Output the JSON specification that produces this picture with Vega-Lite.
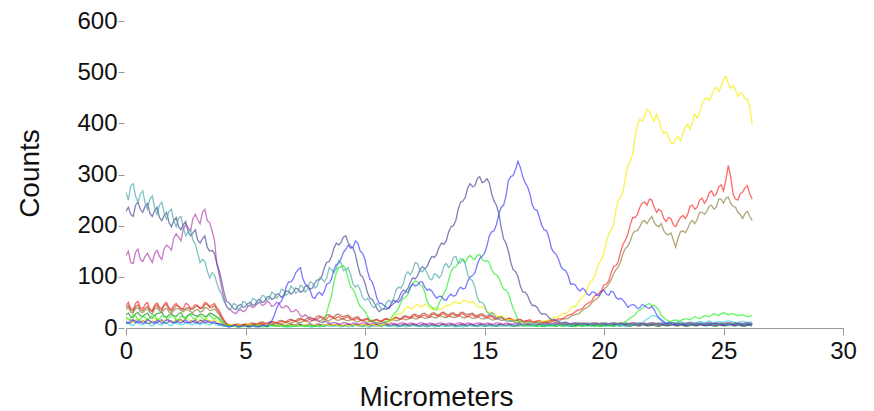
{
"$schema": "https://vega.github.io/schema/vega-lite/v6.json",
"width": 717, "height": 307,
"autosize": {"type": "none"},
"padding": {"left": 126, "top": 21, "right": 31, "bottom": 83},
"background": "white",
"config": {"view": {"stroke": null}, "font": "Liberation Sans"},
"data": {"values": [
{"x":0,"s1":265,"s2":228,"s3":12,"s4":142,"s5":22,"s6":15,"s7":44,"s8":36,"s9":40,"s10":8,"s11":12,"s12":26},
{"x":0.2,"s1":278,"s2":222,"s3":15,"s4":128,"s5":18,"s6":12,"s7":38,"s8":31,"s9":35,"s10":6,"s11":10,"s12":22},
{"x":0.4,"s1":258,"s2":240,"s3":10,"s4":148,"s5":24,"s6":17,"s7":48,"s8":38,"s9":42,"s10":10,"s11":14,"s12":28},
{"x":0.6,"s1":262,"s2":232,"s3":13,"s4":134,"s5":17,"s6":14,"s7":40,"s8":32,"s9":36,"s10":7,"s11":11,"s12":24},
{"x":0.8,"s1":244,"s2":238,"s3":11,"s4":140,"s5":21,"s6":16,"s7":46,"s8":35,"s9":39,"s10":9,"s11":13,"s12":27},
{"x":1.0,"s1":252,"s2":224,"s3":14,"s4":136,"s5":19,"s6":13,"s7":36,"s8":30,"s9":34,"s10":5,"s11":9,"s12":21},
{"x":1.2,"s1":236,"s2":230,"s3":9,"s4":146,"s5":25,"s6":18,"s7":45,"s8":37,"s9":41,"s10":8,"s11":12,"s12":25},
{"x":1.4,"s1":240,"s2":216,"s3":13,"s4":140,"s5":18,"s6":15,"s7":41,"s8":33,"s9":37,"s10":7,"s11":14,"s12":29},
{"x":1.6,"s1":224,"s2":220,"s3":12,"s4":156,"s5":22,"s6":14,"s7":47,"s8":36,"s9":44,"s10":10,"s11":10,"s12":23},
{"x":1.8,"s1":228,"s2":206,"s3":15,"s4":158,"s5":20,"s6":17,"s7":39,"s8":31,"s9":36,"s10":6,"s11":13,"s12":26},
{"x":2.0,"s1":210,"s2":210,"s3":10,"s4":176,"s5":23,"s6":13,"s7":44,"s8":34,"s9":38,"s10":9,"s11":11,"s12":24},
{"x":2.2,"s1":214,"s2":198,"s3":12,"s4":178,"s5":17,"s6":16,"s7":42,"s8":38,"s9":42,"s10":8,"s11":15,"s12":28},
{"x":2.4,"s1":196,"s2":202,"s3":14,"s4":194,"s5":21,"s6":15,"s7":38,"s8":32,"s9":35,"s10":7,"s11":12,"s12":22},
{"x":2.6,"s1":188,"s2":188,"s3":11,"s4":196,"s5":24,"s6":18,"s7":46,"s8":35,"s9":40,"s10":10,"s11":10,"s12":25},
{"x":2.8,"s1":172,"s2":186,"s3":13,"s4":214,"s5":19,"s6":14,"s7":40,"s8":30,"s9":37,"s10":6,"s11":13,"s12":27},
{"x":3.0,"s1":146,"s2":172,"s3":10,"s4":212,"s5":22,"s6":16,"s7":44,"s8":36,"s9":43,"s10":8,"s11":11,"s12":23},
{"x":3.2,"s1":134,"s2":174,"s3":12,"s4":226,"s5":18,"s6":13,"s7":42,"s8":33,"s9":39,"s10":9,"s11":14,"s12":26},
{"x":3.4,"s1":112,"s2":158,"s3":14,"s4":210,"s5":23,"s6":17,"s7":48,"s8":39,"s9":46,"s10":7,"s11":12,"s12":24},
{"x":3.6,"s1":108,"s2":152,"s3":11,"s4":190,"s5":20,"s6":15,"s7":45,"s8":35,"s9":40,"s10":8,"s11":10,"s12":28},
{"x":3.8,"s1":88,"s2":126,"s3":9,"s4":126,"s5":21,"s6":14,"s7":40,"s8":32,"s9":36,"s10":6,"s11":9,"s12":22},
{"x":4.0,"s1":66,"s2":92,"s3":7,"s4":78,"s5":12,"s6":8,"s7":24,"s8":18,"s9":20,"s10":4,"s11":6,"s12":12},
{"x":4.2,"s1":44,"s2":52,"s3":4,"s4":42,"s5":5,"s6":5,"s7":9,"s8":7,"s9":8,"s10":3,"s11":5,"s12":5},
{"x":4.4,"s1":38,"s2":44,"s3":3,"s4":34,"s5":3,"s6":7,"s7":5,"s8":4,"s9":6,"s10":4,"s11":4,"s12":3},
{"x":4.6,"s1":45,"s2":36,"s3":5,"s4":28,"s5":4,"s6":4,"s7":6,"s8":5,"s9":7,"s10":2,"s11":6,"s12":4},
{"x":4.8,"s1":40,"s2":46,"s3":3,"s4":36,"s5":2,"s6":6,"s7":5,"s8":4,"s9":6,"s10":5,"s11":5,"s12":6},
{"x":5.0,"s1":50,"s2":42,"s3":4,"s4":34,"s5":4,"s6":5,"s7":7,"s8":6,"s9":8,"s10":3,"s11":7,"s12":4},
{"x":5.2,"s1":46,"s2":50,"s3":2,"s4":44,"s5":3,"s6":7,"s7":6,"s8":5,"s9":9,"s10":4,"s11":5,"s12":5},
{"x":5.4,"s1":56,"s2":46,"s3":4,"s4":42,"s5":5,"s6":4,"s7":8,"s8":7,"s9":8,"s10":2,"s11":6,"s12":3},
{"x":5.6,"s1":52,"s2":56,"s3":3,"s4":50,"s5":2,"s6":6,"s7":9,"s8":6,"s9":11,"s10":4,"s11":8,"s12":5},
{"x":5.8,"s1":62,"s2":52,"s3":5,"s4":46,"s5":4,"s6":5,"s7":8,"s8":8,"s9":10,"s10":3,"s11":5,"s12":4},
{"x":6.0,"s1":57,"s2":62,"s3":8,"s4":50,"s5":3,"s6":7,"s7":10,"s8":7,"s9":12,"s10":5,"s11":7,"s12":6},
{"x":6.2,"s1":67,"s2":58,"s3":24,"s4":44,"s5":5,"s6":4,"s7":11,"s8":9,"s9":11,"s10":3,"s11":6,"s12":4},
{"x":6.4,"s1":63,"s2":66,"s3":48,"s4":48,"s5":3,"s6":6,"s7":10,"s8":8,"s9":14,"s10":4,"s11":8,"s12":5},
{"x":6.6,"s1":74,"s2":64,"s3":62,"s4":40,"s5":4,"s6":5,"s7":13,"s8":10,"s9":13,"s10":2,"s11":5,"s12":3},
{"x":6.8,"s1":68,"s2":72,"s3":90,"s4":40,"s5":2,"s6":7,"s7":12,"s8":9,"s9":16,"s10":4,"s11":7,"s12":5},
{"x":7.0,"s1":78,"s2":70,"s3":96,"s4":32,"s5":4,"s6":5,"s7":15,"s8":12,"s9":15,"s10":3,"s11":6,"s12":4},
{"x":7.2,"s1":71,"s2":76,"s3":114,"s4":32,"s5":3,"s6":6,"s7":14,"s8":11,"s9":18,"s10":5,"s11":8,"s12":6},
{"x":7.4,"s1":80,"s2":72,"s3":96,"s4":22,"s5":5,"s6":4,"s7":16,"s8":13,"s9":17,"s10":3,"s11":5,"s12":4},
{"x":7.6,"s1":76,"s2":82,"s3":82,"s4":22,"s5":3,"s6":7,"s7":15,"s8":12,"s9":20,"s10":4,"s11":7,"s12":5},
{"x":7.8,"s1":88,"s2":78,"s3":60,"s4":14,"s5":4,"s6":5,"s7":18,"s8":15,"s9":19,"s10":2,"s11":6,"s12":3},
{"x":8.0,"s1":82,"s2":94,"s3":66,"s4":16,"s5":3,"s6":6,"s7":17,"s8":14,"s9":23,"s10":4,"s11":8,"s12":5},
{"x":8.2,"s1":96,"s2":102,"s3":64,"s4":11,"s5":5,"s6":4,"s7":20,"s8":16,"s9":21,"s10":3,"s11":5,"s12":4},
{"x":8.4,"s1":98,"s2":128,"s3":86,"s4":12,"s5":30,"s6":7,"s7":18,"s8":15,"s9":25,"s10":5,"s11":7,"s12":6},
{"x":8.6,"s1":114,"s2":140,"s3":96,"s4":9,"s5":62,"s6":5,"s7":22,"s8":18,"s9":22,"s10":3,"s11":6,"s12":4},
{"x":8.8,"s1":116,"s2":166,"s3":124,"s4":10,"s5":108,"s6":6,"s7":20,"s8":16,"s9":26,"s10":4,"s11":8,"s12":5},
{"x":9.0,"s1":128,"s2":168,"s3":136,"s4":8,"s5":120,"s6":4,"s7":19,"s8":17,"s9":23,"s10":2,"s11":5,"s12":3},
{"x":9.2,"s1":114,"s2":180,"s3":154,"s4":10,"s5":114,"s6":7,"s7":21,"s8":15,"s9":24,"s10":4,"s11":7,"s12":5},
{"x":9.4,"s1":104,"s2":160,"s3":156,"s4":7,"s5":80,"s6":5,"s7":17,"s8":16,"s9":20,"s10":3,"s11":6,"s12":4},
{"x":9.6,"s1":80,"s2":144,"s3":170,"s4":9,"s5":66,"s6":6,"s7":18,"s8":13,"s9":21,"s10":5,"s11":8,"s12":6},
{"x":9.8,"s1":74,"s2":104,"s3":150,"s4":8,"s5":42,"s6":4,"s7":15,"s8":14,"s9":17,"s10":3,"s11":5,"s12":4},
{"x":10.0,"s1":54,"s2":88,"s3":134,"s4":10,"s5":32,"s6":7,"s7":16,"s8":12,"s9":18,"s10":4,"s11":7,"s12":5},
{"x":10.2,"s1":52,"s2":58,"s3":96,"s4":7,"s5":16,"s6":5,"s7":14,"s8":13,"s9":15,"s10":2,"s11":6,"s12":3},
{"x":10.4,"s1":40,"s2":48,"s3":76,"s4":9,"s5":12,"s6":6,"s7":15,"s8":11,"s9":16,"s10":4,"s11":8,"s12":5},
{"x":10.6,"s1":44,"s2":32,"s3":48,"s4":8,"s5":7,"s6":4,"s7":14,"s8":12,"s9":14,"s10":3,"s11":5,"s12":4},
{"x":10.8,"s1":38,"s2":38,"s3":44,"s4":10,"s5":11,"s6":7,"s7":17,"s8":14,"s9":17,"s10":5,"s11":7,"s12":6},
{"x":11.0,"s1":54,"s2":40,"s3":38,"s4":7,"s5":14,"s6":12,"s7":16,"s8":13,"s9":16,"s10":3,"s11":6,"s12":4},
{"x":11.2,"s1":58,"s2":54,"s3":48,"s4":9,"s5":27,"s6":20,"s7":19,"s8":16,"s9":20,"s10":4,"s11":8,"s12":5},
{"x":11.4,"s1":80,"s2":56,"s3":50,"s4":8,"s5":38,"s6":28,"s7":18,"s8":15,"s9":19,"s10":2,"s11":5,"s12":3},
{"x":11.6,"s1":86,"s2":74,"s3":66,"s4":10,"s5":58,"s6":32,"s7":21,"s8":18,"s9":23,"s10":4,"s11":7,"s12":5},
{"x":11.8,"s1":110,"s2":78,"s3":70,"s4":7,"s5":66,"s6":42,"s7":20,"s8":17,"s9":22,"s10":3,"s11":6,"s12":4},
{"x":12.0,"s1":114,"s2":98,"s3":86,"s4":9,"s5":88,"s6":38,"s7":23,"s8":20,"s9":26,"s10":5,"s11":8,"s12":6},
{"x":12.2,"s1":126,"s2":102,"s3":84,"s4":8,"s5":90,"s6":46,"s7":21,"s8":18,"s9":24,"s10":3,"s11":5,"s12":4},
{"x":12.4,"s1":110,"s2":120,"s3":90,"s4":10,"s5":82,"s6":42,"s7":24,"s8":21,"s9":28,"s10":4,"s11":7,"s12":5},
{"x":12.6,"s1":108,"s2":120,"s3":74,"s4":7,"s5":52,"s6":44,"s7":22,"s8":19,"s9":25,"s10":2,"s11":6,"s12":3},
{"x":12.8,"s1":94,"s2":140,"s3":72,"s4":9,"s5":40,"s6":36,"s7":26,"s8":22,"s9":29,"s10":4,"s11":8,"s12":5},
{"x":13.0,"s1":104,"s2":144,"s3":58,"s4":8,"s5":36,"s6":40,"s7":24,"s8":20,"s9":26,"s10":3,"s11":5,"s12":4},
{"x":13.2,"s1":104,"s2":166,"s3":62,"s4":10,"s5":58,"s6":36,"s7":27,"s8":23,"s9":30,"s10":5,"s11":7,"s12":6},
{"x":13.4,"s1":126,"s2":170,"s3":54,"s4":7,"s5":76,"s6":44,"s7":23,"s8":20,"s9":27,"s10":3,"s11":6,"s12":4},
{"x":13.6,"s1":124,"s2":198,"s3":66,"s4":9,"s5":110,"s6":46,"s7":26,"s8":22,"s9":29,"s10":4,"s11":8,"s12":5},
{"x":13.8,"s1":140,"s2":210,"s3":64,"s4":8,"s5":120,"s6":52,"s7":24,"s8":21,"s9":26,"s10":2,"s11":5,"s12":3},
{"x":14.0,"s1":128,"s2":246,"s3":80,"s4":10,"s5":136,"s6":48,"s7":27,"s8":23,"s9":30,"s10":4,"s11":7,"s12":5},
{"x":14.2,"s1":124,"s2":256,"s3":78,"s4":7,"s5":128,"s6":54,"s7":23,"s8":20,"s9":27,"s10":3,"s11":6,"s12":4},
{"x":14.4,"s1":96,"s2":282,"s3":100,"s4":9,"s5":142,"s6":50,"s7":25,"s8":21,"s9":28,"s10":5,"s11":8,"s12":6},
{"x":14.6,"s1":80,"s2":278,"s3":108,"s4":8,"s5":134,"s6":48,"s7":22,"s8":19,"s9":25,"s10":3,"s11":5,"s12":4},
{"x":14.8,"s1":50,"s2":296,"s3":136,"s4":10,"s5":144,"s6":40,"s7":24,"s8":20,"s9":27,"s10":4,"s11":7,"s12":5},
{"x":15.0,"s1":44,"s2":286,"s3":146,"s4":7,"s5":130,"s6":38,"s7":21,"s8":18,"s9":24,"s10":6,"s11":6,"s12":3},
{"x":15.2,"s1":26,"s2":284,"s3":180,"s4":9,"s5":128,"s6":30,"s7":22,"s8":19,"s9":25,"s10":4,"s11":8,"s12":5},
{"x":15.4,"s1":27,"s2":248,"s3":190,"s4":8,"s5":106,"s6":28,"s7":19,"s8":16,"s9":21,"s10":5,"s11":5,"s12":4},
{"x":15.6,"s1":18,"s2":224,"s3":222,"s4":10,"s5":98,"s6":22,"s7":20,"s8":17,"s9":22,"s10":3,"s11":7,"s12":6},
{"x":15.8,"s1":19,"s2":174,"s3":240,"s4":7,"s5":76,"s6":22,"s7":17,"s8":15,"s9":18,"s10":6,"s11":6,"s12":4},
{"x":16.0,"s1":13,"s2":150,"s3":288,"s4":9,"s5":68,"s6":16,"s7":19,"s8":16,"s9":19,"s10":4,"s11":8,"s12":5},
{"x":16.2,"s1":14,"s2":114,"s3":298,"s4":8,"s5":38,"s6":16,"s7":16,"s8":13,"s9":15,"s10":5,"s11":5,"s12":3},
{"x":16.4,"s1":10,"s2":100,"s3":326,"s4":10,"s5":16,"s6":12,"s7":17,"s8":14,"s9":16,"s10":3,"s11":7,"s12":5},
{"x":16.6,"s1":12,"s2":70,"s3":296,"s4":7,"s5":5,"s6":12,"s7":14,"s8":12,"s9":13,"s10":6,"s11":6,"s12":4},
{"x":16.8,"s1":8,"s2":64,"s3":276,"s4":9,"s5":4,"s6":9,"s7":15,"s8":13,"s9":14,"s10":4,"s11":8,"s12":6},
{"x":17.0,"s1":10,"s2":44,"s3":240,"s4":8,"s5":6,"s6":11,"s7":13,"s8":11,"s9":11,"s10":5,"s11":5,"s12":4},
{"x":17.2,"s1":7,"s2":40,"s3":230,"s4":10,"s5":3,"s6":10,"s7":14,"s8":12,"s9":12,"s10":3,"s11":7,"s12":5},
{"x":17.4,"s1":9,"s2":27,"s3":200,"s4":7,"s5":5,"s6":13,"s7":12,"s8":11,"s9":10,"s10":6,"s11":6,"s12":3},
{"x":17.6,"s1":6,"s2":26,"s3":190,"s4":9,"s5":4,"s6":14,"s7":13,"s8":12,"s9":11,"s10":4,"s11":8,"s12":5},
{"x":17.8,"s1":8,"s2":16,"s3":156,"s4":8,"s5":6,"s6":19,"s7":14,"s8":13,"s9":9,"s10":5,"s11":5,"s12":4},
{"x":18.0,"s1":6,"s2":15,"s3":144,"s4":10,"s5":3,"s6":20,"s7":16,"s8":14,"s9":10,"s10":3,"s11":7,"s12":6},
{"x":18.2,"s1":7,"s2":10,"s3":120,"s4":7,"s5":5,"s6":26,"s7":18,"s8":16,"s9":8,"s10":6,"s11":6,"s12":4},
{"x":18.4,"s1":9,"s2":12,"s3":112,"s4":9,"s5":4,"s6":28,"s7":22,"s8":18,"s9":9,"s10":4,"s11":8,"s12":5},
{"x":18.6,"s1":6,"s2":8,"s3":86,"s4":8,"s5":6,"s6":38,"s7":26,"s8":22,"s9":7,"s10":5,"s11":5,"s12":3},
{"x":18.8,"s1":8,"s2":6,"s3":84,"s4":10,"s5":3,"s6":42,"s7":32,"s8":26,"s9":10,"s10":3,"s11":7,"s12":5},
{"x":19.0,"s1":10,"s2":9,"s3":72,"s4":7,"s5":5,"s6":56,"s7":36,"s8":30,"s9":8,"s10":6,"s11":6,"s12":4},
{"x":19.2,"s1":7,"s2":7,"s3":74,"s4":9,"s5":4,"s6":66,"s7":44,"s8":38,"s9":9,"s10":4,"s11":8,"s12":6},
{"x":19.4,"s1":9,"s2":8,"s3":64,"s4":8,"s5":6,"s6":88,"s7":50,"s8":44,"s9":7,"s10":5,"s11":5,"s12":4},
{"x":19.6,"s1":6,"s2":6,"s3":70,"s4":10,"s5":3,"s6":100,"s7":62,"s8":54,"s9":10,"s10":3,"s11":7,"s12":5},
{"x":19.8,"s1":8,"s2":9,"s3":64,"s4":7,"s5":5,"s6":128,"s7":68,"s8":62,"s9":8,"s10":6,"s11":6,"s12":3},
{"x":20.0,"s1":10,"s2":7,"s3":74,"s4":9,"s5":4,"s6":146,"s7":84,"s8":76,"s9":9,"s10":4,"s11":8,"s12":5},
{"x":20.2,"s1":7,"s2":8,"s3":64,"s4":8,"s5":6,"s6":184,"s7":92,"s8":86,"s9":7,"s10":5,"s11":5,"s12":4},
{"x":20.4,"s1":9,"s2":6,"s3":70,"s4":10,"s5":3,"s6":204,"s7":120,"s8":106,"s9":10,"s10":3,"s11":7,"s12":6},
{"x":20.6,"s1":6,"s2":9,"s3":56,"s4":7,"s5":8,"s6":250,"s7":130,"s8":120,"s9":8,"s10":6,"s11":6,"s12":4},
{"x":20.8,"s1":8,"s2":7,"s3":54,"s4":9,"s5":10,"s6":268,"s7":164,"s8":146,"s9":9,"s10":4,"s11":8,"s12":5},
{"x":21.0,"s1":10,"s2":8,"s3":40,"s4":8,"s5":16,"s6":318,"s7":184,"s8":160,"s9":7,"s10":5,"s11":5,"s12":3},
{"x":21.2,"s1":7,"s2":6,"s3":46,"s4":10,"s5":22,"s6":340,"s7":216,"s8":184,"s9":10,"s10":6,"s11":7,"s12":5},
{"x":21.4,"s1":9,"s2":9,"s3":38,"s4":7,"s5":32,"s6":398,"s7":222,"s8":190,"s9":8,"s10":8,"s11":6,"s12":4},
{"x":21.6,"s1":6,"s2":7,"s3":46,"s4":9,"s5":38,"s6":404,"s7":244,"s8":208,"s9":9,"s10":10,"s11":8,"s12":6},
{"x":21.8,"s1":8,"s2":8,"s3":40,"s4":8,"s5":46,"s6":428,"s7":240,"s8":204,"s9":7,"s10":18,"s11":5,"s12":4},
{"x":22.0,"s1":10,"s2":6,"s3":42,"s4":10,"s5":44,"s6":412,"s7":250,"s8":218,"s9":10,"s10":24,"s11":7,"s12":5},
{"x":22.2,"s1":7,"s2":9,"s3":26,"s4":7,"s5":40,"s6":418,"s7":226,"s8":200,"s9":8,"s10":22,"s11":6,"s12":3},
{"x":22.4,"s1":9,"s2":7,"s3":16,"s4":9,"s5":24,"s6":388,"s7":228,"s8":204,"s9":9,"s10":14,"s11":8,"s12":5},
{"x":22.6,"s1":6,"s2":8,"s3":9,"s4":8,"s5":16,"s6":384,"s7":208,"s8":184,"s9":7,"s10":10,"s11":5,"s12":4},
{"x":22.8,"s1":8,"s2":6,"s3":8,"s4":10,"s5":12,"s6":362,"s7":214,"s8":186,"s9":10,"s10":12,"s11":7,"s12":6},
{"x":23.0,"s1":10,"s2":9,"s3":6,"s4":7,"s5":16,"s6":370,"s7":198,"s8":158,"s9":8,"s10":9,"s11":6,"s12":4},
{"x":23.2,"s1":7,"s2":7,"s3":8,"s4":9,"s5":14,"s6":366,"s7":216,"s8":188,"s9":9,"s10":13,"s11":8,"s12":5},
{"x":23.4,"s1":9,"s2":8,"s3":5,"s4":8,"s5":18,"s6":392,"s7":214,"s8":186,"s9":7,"s10":10,"s11":5,"s12":3},
{"x":23.6,"s1":6,"s2":6,"s3":7,"s4":10,"s5":16,"s6":388,"s7":238,"s8":206,"s9":10,"s10":12,"s11":7,"s12":5},
{"x":23.8,"s1":8,"s2":9,"s3":6,"s4":7,"s5":22,"s6":418,"s7":232,"s8":204,"s9":8,"s10":9,"s11":6,"s12":4},
{"x":24.0,"s1":10,"s2":7,"s3":8,"s4":9,"s5":18,"s6":420,"s7":250,"s8":226,"s9":9,"s10":13,"s11":8,"s12":6},
{"x":24.2,"s1":7,"s2":8,"s3":5,"s4":8,"s5":24,"s6":446,"s7":244,"s8":222,"s9":7,"s10":11,"s11":5,"s12":4},
{"x":24.4,"s1":9,"s2":6,"s3":7,"s4":10,"s5":22,"s6":444,"s7":264,"s8":238,"s9":10,"s10":14,"s11":7,"s12":5},
{"x":24.6,"s1":6,"s2":9,"s3":6,"s4":7,"s5":28,"s6":466,"s7":258,"s8":232,"s9":8,"s10":10,"s11":6,"s12":3},
{"x":24.8,"s1":8,"s2":7,"s3":8,"s4":9,"s5":24,"s6":462,"s7":276,"s8":252,"s9":9,"s10":13,"s11":8,"s12":5},
{"x":25.0,"s1":10,"s2":8,"s3":5,"s4":8,"s5":30,"s6":486,"s7":268,"s8":244,"s9":7,"s10":11,"s11":5,"s12":4},
{"x":25.2,"s1":7,"s2":6,"s3":7,"s4":10,"s5":26,"s6":478,"s7":318,"s8":256,"s9":10,"s10":14,"s11":7,"s12":6},
{"x":25.4,"s1":9,"s2":9,"s3":6,"s4":7,"s5":28,"s6":474,"s7":262,"s8":238,"s9":8,"s10":12,"s11":6,"s12":4},
{"x":25.6,"s1":6,"s2":7,"s3":8,"s4":9,"s5":24,"s6":452,"s7":250,"s8":226,"s9":9,"s10":10,"s11":8,"s12":5},
{"x":25.8,"s1":8,"s2":8,"s3":5,"s4":8,"s5":26,"s6":458,"s7":266,"s8":214,"s9":7,"s10":13,"s11":5,"s12":3},
{"x":26.0,"s1":10,"s2":6,"s3":7,"s4":10,"s5":22,"s6":446,"s7":278,"s8":228,"s9":10,"s10":11,"s11":7,"s12":5},
{"x":26.2,"s1":7,"s2":9,"s3":6,"s4":7,"s5":24,"s6":398,"s7":252,"s8":210,"s9":8,"s10":12,"s11":6,"s12":4},
{"x":0.1,"s1":250,"s2":236,"s3":9,"s4":150,"s5":16,"s6":19,"s7":50,"s8":40,"s9":44,"s10":11,"s11":9,"s12":29},
{"x":0.3,"s1":282,"s2":218,"s3":16,"s4":126,"s5":26,"s6":11,"s7":36,"s8":29,"s9":33,"s10":5,"s11":15,"s12":20},
{"x":0.5,"s1":246,"s2":246,"s3":14,"s4":154,"s5":15,"s6":18,"s7":52,"s8":40,"s9":45,"s10":11,"s11":10,"s12":30},
{"x":0.7,"s1":268,"s2":226,"s3":9,"s4":130,"s5":23,"s6":12,"s7":38,"s8":30,"s9":34,"s10":6,"s11":14,"s12":22},
{"x":0.9,"s1":232,"s2":244,"s3":16,"s4":146,"s5":16,"s6":18,"s7":50,"s8":38,"s9":42,"s10":10,"s11":9,"s12":29},
{"x":1.1,"s1":258,"s2":218,"s3":10,"s4":128,"s5":26,"s6":11,"s7":34,"s8":28,"s9":32,"s10":4,"s11":13,"s12":19},
{"x":1.3,"s1":222,"s2":236,"s3":15,"s4":152,"s5":16,"s6":19,"s7":49,"s8":40,"s9":45,"s10":10,"s11":10,"s12":28},
{"x":1.5,"s1":246,"s2":210,"s3":9,"s4":134,"s5":24,"s6":12,"s7":37,"s8":30,"s9":34,"s10":6,"s11":16,"s12":31},
{"x":1.7,"s1":212,"s2":226,"s3":16,"s4":162,"s5":19,"s6":17,"s7":50,"s8":39,"s9":46,"s10":11,"s11":9,"s12":21},
{"x":1.9,"s1":232,"s2":198,"s3":11,"s4":152,"s5":24,"s6":11,"s7":36,"s8":29,"s9":33,"s10":5,"s11":14,"s12":28},
{"x":2.1,"s1":198,"s2":216,"s3":14,"s4":184,"s5":15,"s6":18,"s7":48,"s8":38,"s9":44,"s10":10,"s11":10,"s12":22},
{"x":2.3,"s1":218,"s2":192,"s3":10,"s4":170,"s5":23,"s6":14,"s7":38,"s8":34,"s9":38,"s10":6,"s11":16,"s12":30},
{"x":2.5,"s1":180,"s2":208,"s3":16,"s4":202,"s5":18,"s6":19,"s7":48,"s8":36,"s9":38,"s10":9,"s11":11,"s12":20},
{"x":2.7,"s1":192,"s2":180,"s3":10,"s4":190,"s5":26,"s6":12,"s7":38,"s8":32,"s9":36,"s10":7,"s11":14,"s12":28},
{"x":2.9,"s1":164,"s2":192,"s3":15,"s4":222,"s5":17,"s6":17,"s7":46,"s8":35,"s9":42,"s10":9,"s11":10,"s12":24},
{"x":3.1,"s1":128,"s2":166,"s3":9,"s4":204,"s5":24,"s6":12,"s7":38,"s8":31,"s9":38,"s10":6,"s11":15,"s12":27},
{"x":3.3,"s1":130,"s2":180,"s3":15,"s4":232,"s5":16,"s6":18,"s7":50,"s8":40,"s9":46,"s10":10,"s11":10,"s12":22},
{"x":3.5,"s1":98,"s2":150,"s3":10,"s4":206,"s5":26,"s6":13,"s7":42,"s8":34,"s9":40,"s10":6,"s11":14,"s12":29},
{"x":3.7,"s1":104,"s2":146,"s3":13,"s4":172,"s5":18,"s6":17,"s7":48,"s8":37,"s9":44,"s10":9,"s11":9,"s12":24},
{"x":3.9,"s1":74,"s2":112,"s3":8,"s4":104,"s5":17,"s6":11,"s7":34,"s8":26,"s9":30,"s10":5,"s11":8,"s12":18},
{"x":4.1,"s1":52,"s2":70,"s3":5,"s4":58,"s5":8,"s6":6,"s7":16,"s8":12,"s9":14,"s10":3,"s11":5,"s12":8},
{"x":4.3,"s1":36,"s2":50,"s3":2,"s4":38,"s5":4,"s6":6,"s7":6,"s8":5,"s9":7,"s10":2,"s11":4,"s12":4},
{"x":4.5,"s1":48,"s2":38,"s3":5,"s4":30,"s5":5,"s6":5,"s7":7,"s8":4,"s9":5,"s10":5,"s11":5,"s12":5},
{"x":4.7,"s1":36,"s2":44,"s3":2,"s4":34,"s5":2,"s6":6,"s7":4,"s8":6,"s9":8,"s10":3,"s11":4,"s12":3},
{"x":4.9,"s1":52,"s2":40,"s3":5,"s4":32,"s5":4,"s6":4,"s7":7,"s8":3,"s9":5,"s10":4,"s11":6,"s12":5},
{"x":5.1,"s1":42,"s2":48,"s3":3,"s4":42,"s5":2,"s6":7,"s7":5,"s8":6,"s9":7,"s10":2,"s11":5,"s12":3},
{"x":5.3,"s1":58,"s2":44,"s3":4,"s4":40,"s5":5,"s6":5,"s7":8,"s8":4,"s9":10,"s10":5,"s11":7,"s12":5},
{"x":5.5,"s1":48,"s2":54,"s3":2,"s4":48,"s5":3,"s6":6,"s7":7,"s8":8,"s9":7,"s10":3,"s11":5,"s12":4},
{"x":5.7,"s1":64,"s2":50,"s3":5,"s4":44,"s5":4,"s6":4,"s7":10,"s8":5,"s9":12,"s10":2,"s11":7,"s12":5},
{"x":5.9,"s1":54,"s2":60,"s3":3,"s4":52,"s5":2,"s6":7,"s7":7,"s8":9,"s9":9,"s10":5,"s11":5,"s12":3},
{"x":6.1,"s1":70,"s2":56,"s3":14,"s4":42,"s5":5,"s6":5,"s7":12,"s8":6,"s9":13,"s10":3,"s11":8,"s12":6},
{"x":6.3,"s1":58,"s2":66,"s3":38,"s4":50,"s5":3,"s6":6,"s7":9,"s8":10,"s9":10,"s10":5,"s11":5,"s12":4},
{"x":6.5,"s1":76,"s2":60,"s3":52,"s4":40,"s5":5,"s6":4,"s7":13,"s8":7,"s9":15,"s10":3,"s11":7,"s12":5},
{"x":6.7,"s1":64,"s2":72,"s3":80,"s4":44,"s5":2,"s6":7,"s7":11,"s8":11,"s9":12,"s10":5,"s11":5,"s12":3},
{"x":6.9,"s1":82,"s2":66,"s3":90,"s4":32,"s5":4,"s6":5,"s7":15,"s8":9,"s9":17,"s10":2,"s11":8,"s12":5},
{"x":7.1,"s1":68,"s2":78,"s3":108,"s4":36,"s5":3,"s6":6,"s7":13,"s8":13,"s9":14,"s10":4,"s11":6,"s12":4},
{"x":7.3,"s1":84,"s2":70,"s3":118,"s4":24,"s5":5,"s6":4,"s7":17,"s8":10,"s9":19,"s10":3,"s11":7,"s12":6},
{"x":7.5,"s1":70,"s2":82,"s3":86,"s4":26,"s5":3,"s6":6,"s7":14,"s8":14,"s9":16,"s10":5,"s11":5,"s12":3},
{"x":7.7,"s1":90,"s2":76,"s3":74,"s4":16,"s5":5,"s6":5,"s7":18,"s8":11,"s9":21,"s10":2,"s11":8,"s12":5},
{"x":7.9,"s1":78,"s2":88,"s3":58,"s4":18,"s5":3,"s6":7,"s7":16,"s8":16,"s9":18,"s10":4,"s11":5,"s12":4},
{"x":8.1,"s1":98,"s2":94,"s3":70,"s4":12,"s5":4,"s6":4,"s7":21,"s8":13,"s9":24,"s10":2,"s11":7,"s12":5},
{"x":8.3,"s1":90,"s2":118,"s3":72,"s4":13,"s5":14,"s6":6,"s7":17,"s8":17,"s9":20,"s10":4,"s11":5,"s12":3},
{"x":8.5,"s1":118,"s2":130,"s3":88,"s4":10,"s5":48,"s6":5,"s7":23,"s8":14,"s9":26,"s10":3,"s11":8,"s12":6},
{"x":8.7,"s1":108,"s2":156,"s3":114,"s4":11,"s5":90,"s6":7,"s7":19,"s8":19,"s9":21,"s10":5,"s11":5,"s12":4},
{"x":8.9,"s1":132,"s2":162,"s3":126,"s4":8,"s5":118,"s6":4,"s7":22,"s8":15,"s9":27,"s10":3,"s11":7,"s12":5},
{"x":9.1,"s1":112,"s2":178,"s3":148,"s4":11,"s5":122,"s6":6,"s7":18,"s8":18,"s9":22,"s10":5,"s11":5,"s12":3},
{"x":9.3,"s1":118,"s2":166,"s3":162,"s4":8,"s5":96,"s6":4,"s7":22,"s8":14,"s9":25,"s10":2,"s11":8,"s12":6},
{"x":9.5,"s1":86,"s2":156,"s3":158,"s4":10,"s5":76,"s6":7,"s7":16,"s8":17,"s9":19,"s10":4,"s11":5,"s12":4},
{"x":9.7,"s1":84,"s2":122,"s3":166,"s4":7,"s5":52,"s6":5,"s7":19,"s8":12,"s9":22,"s10":3,"s11":7,"s12":5},
{"x":9.9,"s1":60,"s2":100,"s3":146,"s4":10,"s5":38,"s6":6,"s7":14,"s8":15,"s9":16,"s10":5,"s11":5,"s12":3},
{"x":10.1,"s1":58,"s2":70,"s3":112,"s4":8,"s5":24,"s6":4,"s7":17,"s8":11,"s9":19,"s10":2,"s11":8,"s12":5},
{"x":10.3,"s1":42,"s2":56,"s3":90,"s4":10,"s5":15,"s6":7,"s7":13,"s8":14,"s9":14,"s10":4,"s11":5,"s12":4},
{"x":10.5,"s1":48,"s2":38,"s3":58,"s4":7,"s5":8,"s6":4,"s7":16,"s8":10,"s9":17,"s10":3,"s11":7,"s12":5},
{"x":10.7,"s1":36,"s2":36,"s3":48,"s4":10,"s5":10,"s6":6,"s7":13,"s8":14,"s9":13,"s10":5,"s11":5,"s12":3},
{"x":10.9,"s1":50,"s2":36,"s3":40,"s4":8,"s5":12,"s6":9,"s7":18,"s8":12,"s9":18,"s10":3,"s11":8,"s12":5},
{"x":11.1,"s1":50,"s2":48,"s3":44,"s4":10,"s5":20,"s6":15,"s7":15,"s8":16,"s9":15,"s10":5,"s11":5,"s12":4},
{"x":11.3,"s1":74,"s2":52,"s3":52,"s4":7,"s5":32,"s6":26,"s7":20,"s8":14,"s9":21,"s10":3,"s11":7,"s12":5},
{"x":11.5,"s1":78,"s2":68,"s3":56,"s4":10,"s5":50,"s6":28,"s7":17,"s8":18,"s9":18,"s10":5,"s11":5,"s12":3},
{"x":11.7,"s1":104,"s2":72,"s3":70,"s4":8,"s5":60,"s6":40,"s7":22,"s8":16,"s9":24,"s10":2,"s11":8,"s12":6},
{"x":11.9,"s1":104,"s2":90,"s3":80,"s4":10,"s5":78,"s6":38,"s7":19,"s8":20,"s9":21,"s10":4,"s11":5,"s12":4},
{"x":12.1,"s1":128,"s2":96,"s3":82,"s4":7,"s5":92,"s6":44,"s7":24,"s8":18,"s9":27,"s10":3,"s11":7,"s12":5},
{"x":12.3,"s1":112,"s2":114,"s3":90,"s4":10,"s5":84,"s6":42,"s7":21,"s8":22,"s9":24,"s10":5,"s11":5,"s12":3},
{"x":12.5,"s1":116,"s2":116,"s3":80,"s4":8,"s5":70,"s6":46,"s7":25,"s8":19,"s9":29,"s10":3,"s11":8,"s12":5},
{"x":12.7,"s1":96,"s2":132,"s3":76,"s4":10,"s5":44,"s6":38,"s7":21,"s8":22,"s9":25,"s10":5,"s11":5,"s12":4},
{"x":12.9,"s1":106,"s2":138,"s3":64,"s4":7,"s5":36,"s6":40,"s7":27,"s8":20,"s9":30,"s10":2,"s11":7,"s12":5},
{"x":13.1,"s1":98,"s2":158,"s3":62,"s4":10,"s5":48,"s6":36,"s7":23,"s8":24,"s9":26,"s10":4,"s11":5,"s12":3},
{"x":13.3,"s1":120,"s2":164,"s3":56,"s4":8,"s5":68,"s6":42,"s7":28,"s8":21,"s9":31,"s10":3,"s11":8,"s12":6},
{"x":13.5,"s1":118,"s2":188,"s3":62,"s4":10,"s5":94,"s6":44,"s7":23,"s8":23,"s9":26,"s10":5,"s11":5,"s12":4},
{"x":13.7,"s1":138,"s2":200,"s3":62,"s4":7,"s5":118,"s6":50,"s7":27,"s8":21,"s9":30,"s10":3,"s11":7,"s12":5},
{"x":13.9,"s1":126,"s2":232,"s3":74,"s4":10,"s5":126,"s6":48,"s7":23,"s8":24,"s9":26,"s10":5,"s11":5,"s12":3},
{"x":14.1,"s1":134,"s2":248,"s3":76,"s4":8,"s5":134,"s6":54,"s7":28,"s8":20,"s9":31,"s10":2,"s11":8,"s12":5},
{"x":14.3,"s1":104,"s2":274,"s3":92,"s4":10,"s5":138,"s6":50,"s7":22,"s8":23,"s9":26,"s10":4,"s11":5,"s12":4},
{"x":14.5,"s1":92,"s2":276,"s3":102,"s4":7,"s5":136,"s6":52,"s7":26,"s8":19,"s9":29,"s10":3,"s11":7,"s12":5},
{"x":14.7,"s1":60,"s2":292,"s3":124,"s4":10,"s5":142,"s6":42,"s7":21,"s8":22,"s9":24,"s10":5,"s11":5,"s12":3},
{"x":14.9,"s1":50,"s2":284,"s3":140,"s4":8,"s5":134,"s6":42,"s7":25,"s8":18,"s9":28,"s10":3,"s11":8,"s12":6},
{"x":15.1,"s1":32,"s2":292,"s3":160,"s4":10,"s5":132,"s6":32,"s7":20,"s8":20,"s9":23,"s10":5,"s11":5,"s12":4},
{"x":15.3,"s1":30,"s2":262,"s3":188,"s4":7,"s5":114,"s6":31,"s7":23,"s8":16,"s9":25,"s10":3,"s11":7,"s12":5},
{"x":15.5,"s1":19,"s2":240,"s3":202,"s4":10,"s5":104,"s6":24,"s7":18,"s8":18,"s9":20,"s10":6,"s11":5,"s12":3},
{"x":15.7,"s1":21,"s2":196,"s3":236,"s4":8,"s5":86,"s6":24,"s7":21,"s8":15,"s9":22,"s10":4,"s11":8,"s12":5},
{"x":15.9,"s1":14,"s2":166,"s3":258,"s4":10,"s5":74,"s6":18,"s7":16,"s8":17,"s9":17,"s10":5,"s11":5,"s12":4},
{"x":16.1,"s1":15,"s2":128,"s3":296,"s4":7,"s5":52,"s6":17,"s7":19,"s8":13,"s9":18,"s10":3,"s11":7,"s12":5},
{"x":16.3,"s1":10,"s2":110,"s3":310,"s4":10,"s5":28,"s6":13,"s7":15,"s8":15,"s9":14,"s10":6,"s11":5,"s12":3},
{"x":16.5,"s1":13,"s2":82,"s3":314,"s4":8,"s5":9,"s6":13,"s7":17,"s8":12,"s9":16,"s10":4,"s11":8,"s12":5},
{"x":16.7,"s1":8,"s2":70,"s3":284,"s4":10,"s5":5,"s6":10,"s7":13,"s8":14,"s9":12,"s10":5,"s11":5,"s12":4},
{"x":16.9,"s1":11,"s2":52,"s3":262,"s4":7,"s5":6,"s6":11,"s7":16,"s8":11,"s9":13,"s10":3,"s11":7,"s12":6},
{"x":17.1,"s1":7,"s2":44,"s3":232,"s4":10,"s5":4,"s6":10,"s7":12,"s8":13,"s9":10,"s10":6,"s11":5,"s12":4},
{"x":17.3,"s1":10,"s2":32,"s3":216,"s4":8,"s5":5,"s6":12,"s7":15,"s8":10,"s9":12,"s10":4,"s11":8,"s12":5},
{"x":17.5,"s1":6,"s2":28,"s3":192,"s4":10,"s5":3,"s6":14,"s7":11,"s8":13,"s9":9,"s10":5,"s11":5,"s12":3},
{"x":17.7,"s1":9,"s2":20,"s3":176,"s4":7,"s5":6,"s6":16,"s7":15,"s8":11,"s9":11,"s10":3,"s11":7,"s12":5},
{"x":17.9,"s1":6,"s2":17,"s3":148,"s4":10,"s5":4,"s6":21,"s7":13,"s8":15,"s9":8,"s10":6,"s11":5,"s12":4},
{"x":18.1,"s1":8,"s2":12,"s3":134,"s4":8,"s5":5,"s6":22,"s7":18,"s8":13,"s9":10,"s10":4,"s11":8,"s12":6},
{"x":18.3,"s1":7,"s2":11,"s3":114,"s4":10,"s5":3,"s6":28,"s7":19,"s8":18,"s9":7,"s10":5,"s11":5,"s12":4},
{"x":18.5,"s1":9,"s2":9,"s3":102,"s4":7,"s5":6,"s6":32,"s7":25,"s8":19,"s9":10,"s10":3,"s11":7,"s12":5},
{"x":18.7,"s1":6,"s2":8,"s3":86,"s4":10,"s5":4,"s6":42,"s7":28,"s8":25,"s9":7,"s10":6,"s11":5,"s12":3},
{"x":18.9,"s1":9,"s2":7,"s3":76,"s4":8,"s5":5,"s6":48,"s7":35,"s8":27,"s9":10,"s10":4,"s11":8,"s12":5},
{"x":19.1,"s1":7,"s2":9,"s3":78,"s4":10,"s5":3,"s6":60,"s7":38,"s8":35,"s9":7,"s10":5,"s11":5,"s12":4},
{"x":19.3,"s1":9,"s2":6,"s3":66,"s4":7,"s5":6,"s6":78,"s7":48,"s8":40,"s9":10,"s10":3,"s11":7,"s12":6},
{"x":19.5,"s1":6,"s2":8,"s3":70,"s4":10,"s5":4,"s6":92,"s7":54,"s8":50,"s9":7,"s10":6,"s11":5,"s12":4},
{"x":19.7,"s1":9,"s2":7,"s3":64,"s4":8,"s5":5,"s6":116,"s7":66,"s8":57,"s9":10,"s10":4,"s11":8,"s12":5},
{"x":19.9,"s1":7,"s2":9,"s3":72,"s4":10,"s5":3,"s6":134,"s7":74,"s8":70,"s9":7,"s10":5,"s11":5,"s12":3},
{"x":20.1,"s1":9,"s2":6,"s3":66,"s4":7,"s5":6,"s6":168,"s7":86,"s8":80,"s9":10,"s10":3,"s11":7,"s12":5},
{"x":20.3,"s1":6,"s2":8,"s3":72,"s4":10,"s5":4,"s6":192,"s7":108,"s8":94,"s9":7,"s10":6,"s11":5,"s12":4},
{"x":20.5,"s1":9,"s2":7,"s3":60,"s4":8,"s5":5,"s6":232,"s7":122,"s8":114,"s9":10,"s10":4,"s11":8,"s12":6},
{"x":20.7,"s1":7,"s2":9,"s3":58,"s4":10,"s5":10,"s6":256,"s7":150,"s8":130,"s9":7,"s10":5,"s11":5,"s12":4},
{"x":20.9,"s1":9,"s2":6,"s3":48,"s4":7,"s5":12,"s6":296,"s7":172,"s8":156,"s9":10,"s10":3,"s11":7,"s12":5},
{"x":21.1,"s1":6,"s2":8,"s3":44,"s4":10,"s5":20,"s6":326,"s7":202,"s8":170,"s9":7,"s10":6,"s11":5,"s12":3},
{"x":21.3,"s1":9,"s2":7,"s3":44,"s4":8,"s5":26,"s6":372,"s7":216,"s8":190,"s9":10,"s10":7,"s11":8,"s12":5},
{"x":21.5,"s1":7,"s2":9,"s3":40,"s4":10,"s5":36,"s6":408,"s7":236,"s8":198,"s9":7,"s10":9,"s11":5,"s12":4},
{"x":21.7,"s1":9,"s2":6,"s3":44,"s4":7,"s5":42,"s6":414,"s7":246,"s8":210,"s9":10,"s10":14,"s11":7,"s12":6},
{"x":21.9,"s1":6,"s2":8,"s3":38,"s4":10,"s5":48,"s6":424,"s7":252,"s8":212,"s9":7,"s10":20,"s11":5,"s12":4},
{"x":22.1,"s1":9,"s2":7,"s3":36,"s4":8,"s5":44,"s6":404,"s7":236,"s8":206,"s9":10,"s10":24,"s11":8,"s12":5},
{"x":22.3,"s1":7,"s2":9,"s3":20,"s4":10,"s5":34,"s6":406,"s7":232,"s8":198,"s9":7,"s10":18,"s11":5,"s12":3},
{"x":22.5,"s1":9,"s2":6,"s3":12,"s4":7,"s5":20,"s6":380,"s7":214,"s8":190,"s9":10,"s10":12,"s11":7,"s12":5},
{"x":22.7,"s1":6,"s2":8,"s3":10,"s4":10,"s5":14,"s6":374,"s7":216,"s8":182,"s9":7,"s10":11,"s11":5,"s12":4},
{"x":22.9,"s1":9,"s2":7,"s3":6,"s4":8,"s5":15,"s6":360,"s7":202,"s8":172,"s9":10,"s10":10,"s11":8,"s12":6},
{"x":23.1,"s1":7,"s2":9,"s3":7,"s4":10,"s5":14,"s6":374,"s7":208,"s8":176,"s9":7,"s10":12,"s11":5,"s12":4},
{"x":23.3,"s1":9,"s2":6,"s3":6,"s4":7,"s5":17,"s6":380,"s7":220,"s8":190,"s9":10,"s10":11,"s11":7,"s12":5},
{"x":23.5,"s1":6,"s2":8,"s3":6,"s4":10,"s5":18,"s6":398,"s7":222,"s8":194,"s9":7,"s10":10,"s11":5,"s12":3},
{"x":23.7,"s1":9,"s2":7,"s3":7,"s4":8,"s5":19,"s6":402,"s7":240,"s8":210,"s9":10,"s10":11,"s11":8,"s12":5},
{"x":23.9,"s1":7,"s2":9,"s3":7,"s4":10,"s5":20,"s6":410,"s7":236,"s8":212,"s9":7,"s10":11,"s11":5,"s12":4},
{"x":24.1,"s1":9,"s2":6,"s3":6,"s4":7,"s5":21,"s6":438,"s7":254,"s8":226,"s9":10,"s10":12,"s11":7,"s12":6},
{"x":24.3,"s1":6,"s2":8,"s3":6,"s4":10,"s5":23,"s6":450,"s7":250,"s8":228,"s9":7,"s10":12,"s11":5,"s12":4},
{"x":24.5,"s1":9,"s2":7,"s3":6,"s4":8,"s5":25,"s6":454,"s7":268,"s8":240,"s9":10,"s10":11,"s11":8,"s12":5},
{"x":24.7,"s1":7,"s2":9,"s3":7,"s4":10,"s5":26,"s6":470,"s7":262,"s8":236,"s9":7,"s10":12,"s11":5,"s12":3},
{"x":24.9,"s1":9,"s2":6,"s3":6,"s4":7,"s5":28,"s6":472,"s7":280,"s8":252,"s9":10,"s10":12,"s11":7,"s12":5},
{"x":25.1,"s1":6,"s2":8,"s3":6,"s4":10,"s5":28,"s6":492,"s7":290,"s8":254,"s9":7,"s10":13,"s11":5,"s12":4},
{"x":25.3,"s1":9,"s2":7,"s3":7,"s4":8,"s5":27,"s6":468,"s7":296,"s8":244,"s9":10,"s10":13,"s11":8,"s12":6},
{"x":25.5,"s1":7,"s2":9,"s3":7,"s4":10,"s5":26,"s6":466,"s7":252,"s8":236,"s9":7,"s10":11,"s11":5,"s12":4},
{"x":25.7,"s1":9,"s2":6,"s3":6,"s4":7,"s5":25,"s6":460,"s7":262,"s8":222,"s9":10,"s10":12,"s11":7,"s12":5},
{"x":25.9,"s1":6,"s2":8,"s3":6,"s4":10,"s5":24,"s6":448,"s7":274,"s8":224,"s9":7,"s10":12,"s11":5,"s12":3},
{"x":26.1,"s1":9,"s2":7,"s3":6,"s4":8,"s5":23,"s6":432,"s7":262,"s8":218,"s9":10,"s10":11,"s11":8,"s12":5}
]},
"transform": [{"fold": ["s12","s11","s10","s9","s8","s7","s6","s5","s4","s3","s2","s1"], "as": ["series","count"]}],
"mark": {"type": "line", "strokeWidth": 1.3, "opacity": 0.7, "clip": true},
"encoding": {
  "x": {"field": "x", "type": "quantitative", "scale": {"domain": [0, 30], "nice": false},
    "axis": {"title": "Micrometers", "values": [0,5,10,15,20,25,30], "grid": false, "domainColor": "#999999", "tickColor": "#999999", "tickSize": 7, "labelFontSize": 24, "labelColor": "#111111", "labelPadding": 4, "labelFlush": false, "labelOverlap": false, "titleFontSize": 28, "titleFontWeight": "normal", "titleColor": "#111111", "titleX": 310, "titleY": 77, "titleBaseline": "alphabetic", "titleAlign": "center"}},
  "y": {"field": "count", "type": "quantitative", "scale": {"domain": [0, 600], "nice": false},
    "axis": {"title": "Counts", "values": [0,100,200,300,400,500,600], "grid": false, "domain": false, "tickColor": "#999999", "tickSize": 6, "offset": 2, "labelFontSize": 24, "labelColor": "#111111", "labelPadding": 1, "labelFlush": false, "labelOverlap": false, "titleFontSize": 28, "titleFontWeight": "normal", "titleColor": "#111111", "titleX": -80, "titleY": 152, "titleAlign": "center"}},
  "color": {"field": "series", "type": "nominal",
    "scale": {"domain": ["s1","s2","s3","s4","s5","s6","s7","s8","s9","s10","s11","s12"],
      "range": ["#4aa8a8","#4a4a98","#4040ff","#b040b0","#22ee22","#f5ee00","#ff2a2a","#8f8040","#a0522d","#30d8e8","#800080","#228b22"]},
    "legend": null}
}
}
